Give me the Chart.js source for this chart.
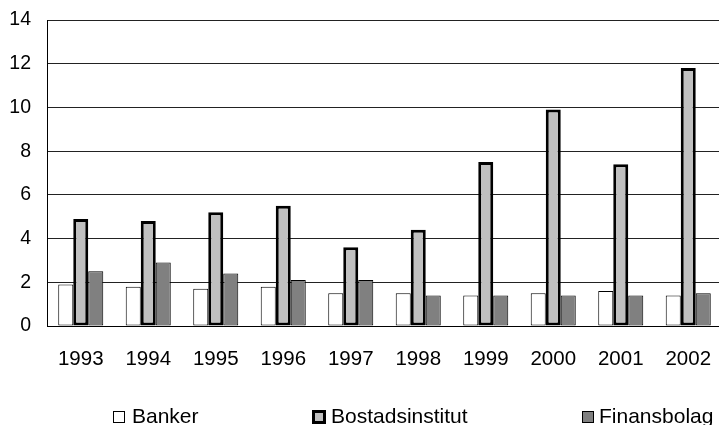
<!DOCTYPE html>
<html><head><meta charset="utf-8">
<script src="https://cdn.jsdelivr.net/npm/chart.js@4/dist/chart.umd.min.js"></script>
<style>
html,body{margin:0;padding:0;background:#fff;overflow:hidden;}
#wrap{position:relative;width:719px;height:425px;overflow:hidden;}
#c{position:absolute;left:0;top:0;}
.bx{position:absolute;box-sizing:border-box;}
.tx{position:absolute;top:405px;font:21px/21px "Liberation Sans",Arial,sans-serif;color:#000;white-space:nowrap;}
</style></head><body>
<div id="wrap">
<canvas id="c" width="722" height="425"></canvas>
<span class="bx" style="left:113px;top:411px;width:12px;height:12px;background:#fff;border:1px solid #000"></span>
<span class="tx" style="left:132px">Banker</span>
<span class="bx" style="left:312px;top:410px;width:14px;height:14px;background:#c0c0c0;border:3px solid #000"></span>
<span class="tx" style="left:331px">Bostadsinstitut</span>
<span class="bx" style="left:582px;top:411px;width:12px;height:12px;background:#808080;border:1px solid #000"></span>
<span class="tx" style="left:599px">Finansbolag</span>
</div>
<script>
const years = ['1993','1994','1995','1996','1997','1998','1999','2000','2001','2002'];
const banker = [1.9,1.8,1.7,1.8,1.5,1.5,1.4,1.5,1.6,1.4];
const bostadsinstitut = [4.9,4.8,5.2,5.5,3.6,4.4,7.5,9.9,7.4,11.8];
const finansbolag = [2.5,2.9,2.4,2.1,2.1,1.4,1.4,1.4,1.4,1.5];
const yTicks = [0,2,4,6,8,10,12,14];

Chart.defaults.font.family = '"Liberation Sans", Arial, sans-serif';
Chart.defaults.font.size = 19;
Chart.defaults.color = '#000';

new Chart(document.getElementById('c'), {
  type: 'bar',
  data: {
    labels: years,
    datasets: [
      {label:'Banker', data: banker, backgroundColor:'#ffffff', borderColor:'#000', borderWidth:1, borderSkipped:false},
      {label:'Bostadsinstitut', data: bostadsinstitut, backgroundColor:'#c0c0c0', borderColor:'#000', borderWidth:3, borderSkipped:false},
      {label:'Finansbolag', data: finansbolag, backgroundColor:'#808080', borderColor:'#000', borderWidth:1, borderSkipped:false}
    ]
  },
  options: {
    responsive:false, animation:false,
    categoryPercentage:0.667, barPercentage:1.0,
    layout:{padding:{top:20,right:0,left:0,bottom:0}},
    plugins:{legend:{display:false}, tooltip:{enabled:false}},
    scales:{
      x:{
        grid:{display:false},
        border:{display:true,color:'#000',width:1},
        ticks:{padding:13, maxRotation:0, autoSkip:false, font:{size:20.5}},
        afterFit:(s)=>{s.height=99; s.paddingLeft=0; s.paddingRight=0;}
      },
      y:{
        min:0,max:14,
        afterBuildTicks:(s)=>{s.ticks = yTicks.map(v=>({value:v}));},
        grid:{color:'#222',lineWidth:1,drawTicks:false},
        border:{display:true,color:'#000',width:1},
        ticks:{padding:16, font:{size:19.5}},
        afterFit:(s)=>{s.width=47; s.paddingTop=0; s.paddingBottom=0;}
      }
    }
  }
});
</script>
</body></html>
